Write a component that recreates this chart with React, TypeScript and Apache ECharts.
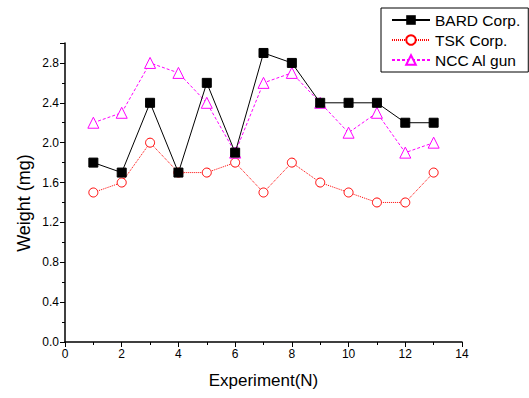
import React, { useEffect, useRef } from "react";
import * as echarts from "echarts";

const experiments = [1, 2, 3, 4, 5, 6, 7, 8, 9, 10, 11, 12, 13];
const bardValues = [1.8, 1.7, 2.4, 1.7, 2.6, 1.9, 2.9, 2.8, 2.4, 2.4, 2.4, 2.2, 2.2];
const tskValues = [1.5, 1.6, 2.0, 1.7, 1.7, 1.8, 1.5, 1.8, 1.6, 1.5, 1.4, 1.4, 1.7];
const nccValues = [2.2, 2.3, 2.8, 2.7, 2.4, 1.9, 2.6, 2.7, 2.4, 2.1, 2.3, 1.9, 2.0];
const seriesNames = ["BARD Corp.", "TSK Corp.", "NCC Al gun"];
const xTitle = "Experiment(N)";
const yTitle = "Weight (mg)";

const FONT = "Liberation Sans, Arial, sans-serif";

export default function App() {
  const ref = useRef<HTMLDivElement>(null);
  useEffect(() => {
    if (!ref.current) return;
    const chart = echarts.init(ref.current, null, { renderer: "svg" });
    const pairs = (vals: number[]) => experiments.map((x, i) => [x, vals[i]]);
    chart.setOption({
      animation: false,
      backgroundColor: "#ffffff",
      textStyle: { fontFamily: FONT },
      grid: { left: 65, top: 43, width: 397, height: 299, containLabel: false },
      legend: {
        orient: "vertical",
        left: 381,
        top: 8,
        width: 141,
        padding: [4, 8, 4, 10],
        itemWidth: 38,
        itemHeight: 12,
        itemGap: 4,
        borderColor: "#000",
        borderWidth: 1,
        textStyle: { fontSize: 15.5, color: "#000", fontFamily: FONT },
        data: seriesNames,
      },
      graphic: [
        {
          type: "text",
          x: 24,
          y: 203,
          rotation: Math.PI / 2,
          style: {
            text: yTitle,
            fontSize: 18,
            fontFamily: FONT,
            fill: "#000",
            align: "center",
            verticalAlign: "middle",
          },
        },
      ],
      xAxis: {
        type: "value",
        min: 0,
        max: 14,
        interval: 2,
        name: xTitle,
        nameLocation: "middle",
        nameGap: 30,
        nameTextStyle: { fontSize: 17, color: "#000", fontFamily: FONT },
        axisLine: { lineStyle: { color: "#000", width: 1.5 } },
        axisTick: { show: true, inside: false, length: 5, lineStyle: { color: "#000" } },
        minorTick: { show: true, splitNumber: 2, length: 3, lineStyle: { color: "#000" } },
        splitLine: { show: false },
        axisLabel: { fontSize: 12, color: "#000", fontFamily: FONT, margin: 6 },
      },
      yAxis: {
        type: "value",
        min: 0,
        max: 3.0,
        interval: 0.4,
        axisLine: { show: true, lineStyle: { color: "#000", width: 1.5 } },
        axisTick: { show: true, inside: false, length: 5, lineStyle: { color: "#000" } },
        minorTick: { show: true, splitNumber: 2, length: 3, lineStyle: { color: "#000" } },
        splitLine: { show: false },
        axisLabel: {
          fontSize: 12,
          color: "#000",
          fontFamily: FONT,
          margin: 6,
          formatter: (v: number) => (v > 2.85 ? "" : v.toFixed(1)),
        },
      },
      series: [
        {
          name: seriesNames[0],
          type: "line",
          data: pairs(bardValues),
          symbol: "rect",
          symbolSize: 9,
          itemStyle: { color: "#000", borderColor: "#000" },
          lineStyle: { color: "#000", width: 1, type: "solid" },
          z: 3,
        },
        {
          name: seriesNames[1],
          type: "line",
          data: pairs(tskValues),
          symbol: "circle",
          symbolSize: 9,
          itemStyle: { color: "#fff", borderColor: "#ff0000", borderWidth: 1 },
          lineStyle: { color: "#ff0000", width: 1, type: [1, 1] },
          z: 2,
        },
        {
          name: seriesNames[2],
          type: "line",
          data: pairs(nccValues),
          symbol: "triangle",
          symbolSize: 11,
          itemStyle: { color: "#fff", borderColor: "#ff00ff", borderWidth: 1 },
          lineStyle: { color: "#ff00ff", width: 1, type: [3, 2] },
          z: 2,
        },
      ],
    });
    return () => chart.dispose();
  }, []);
  return (
    <div
      ref={ref}
      style={{ position: "fixed", left: 0, top: 0, width: 529, height: 398 }}
    />
  );
}
